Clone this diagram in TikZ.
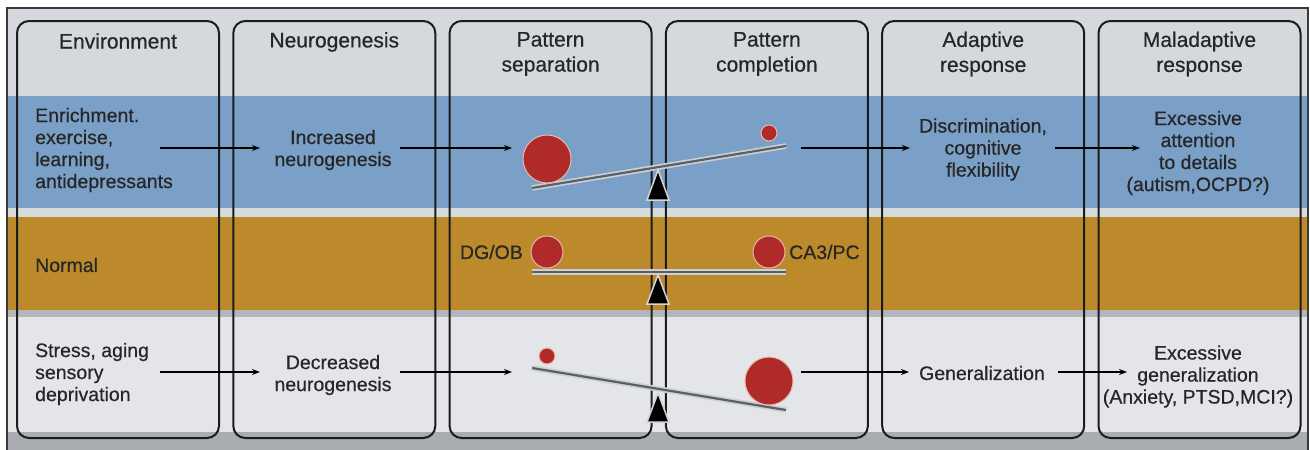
\documentclass[tikz,border=0pt]{standalone}
\usepackage{fontspec}
\setmainfont{Liberation Sans}[FakeBold=0.5]
\usetikzlibrary{arrows.meta}
\definecolor{hdrgray}{HTML}{D5D8DC}
\definecolor{bandblue}{HTML}{7AA0C8}
\definecolor{gapgray}{HTML}{D8DBDE}
\definecolor{bandorange}{HTML}{BC8A2A}
\definecolor{stripgray}{HTML}{B3B6BA}
\definecolor{lowgray}{HTML}{E3E5E8}
\definecolor{botgray}{HTML}{A9ACB0}
\definecolor{framecol}{HTML}{3A3A3A}
\definecolor{boxline}{HTML}{1C1C1C}
\definecolor{txt}{HTML}{262626}
\definecolor{ballred}{HTML}{B02A2A}
\definecolor{ballrim}{HTML}{E9B8A8}
\definecolor{beamlight}{HTML}{CDD0D3}
\definecolor{beamdark}{HTML}{5A6068}
\definecolor{fulcrumrim}{HTML}{D3D5D8}
\tikzset{
  colbox/.style={draw=boxline, line width=2pt, rounded corners=12pt, minimum width=202pt, minimum height=417pt, inner sep=0pt},
  hdr/.style={text=txt, align=center, inner sep=0pt, font=\fontsize{21}{25}\selectfont},
  body/.style={text=txt, align=center, inner sep=0pt, font=\fontsize{19.5}{22}\selectfont},
  bodyl/.style={body, align=left, anchor=west},
  arr/.style={line width=1.6pt, draw=black, -{Stealth[length=8pt,width=6pt]}},
  ball/.style={circle, fill=ballred, draw=ballrim, line width=1pt, inner sep=0pt},
  fulcrum/.style={fill=black, draw=fulcrumrim, line width=1.5pt, line join=miter},
}
\begin{document}
\begin{tikzpicture}[x=1pt,y=-1pt]
\useasboundingbox (0,0) rectangle (1310,450);
% background bands
\fill[hdrgray] (7,8) rectangle (1308,450);
\fill[bandblue] (7,96) rectangle (1308,208);
\fill[gapgray] (7,208) rectangle (1308,217);
\fill[bandorange] (7,217) rectangle (1308,310);
\fill[stripgray] (7,310) rectangle (1308,317);
\fill[lowgray] (7,317) rectangle (1308,432);
\fill[botgray] (7,432) rectangle (1308,450);
\draw[framecol, line width=2pt] (7,452) -- (7,8) -- (1308,8) -- (1308,452);
% column boxes
\node[colbox] (box1) at (118,229.5) {};
\node[colbox] (box2) at (334.3,229.5) {};
\node[colbox] (box3) at (550.6,229.5) {};
\node[colbox] (box4) at (766.9,229.5) {};
\node[colbox] (box5) at (983.2,229.5) {};
\node[colbox] (box6) at (1199.5,229.5) {};
% headers
\node[hdr] (h1) at (118,41) {Environment};
\node[hdr] (h2) at (334.3,42) {Neurogenesis};
\node[hdr] (h3) at (550.6,54) {Pattern\\separation};
\node[hdr] (h4) at (766.9,54) {Pattern\\completion};
\node[hdr] (h5) at (983.2,54) {Adaptive\\response};
\node[hdr] (h6) at (1199.5,54) {Maladaptive\\response};
% top row texts
\node[bodyl] (env1) at (35,150) {Enrichment.\\exercise,\\learning,\\antidepressants};
\node[body] (neu1) at (333,150) {Increased\\neurogenesis};
\node[body] (adp1) at (983,149.5) {Discrimination,\\cognitive\\flexibility};
\node[body] (mal1) at (1198,153) {Excessive\\attention\\to details\\(autism,OCPD?)};
% middle row
\node[bodyl] (norm) at (35,265) {Normal};
\node[body, anchor=east] (dgob) at (523,252) {DG/OB};
\node[body, anchor=west] (ca3) at (789,252) {CA3/PC};
% bottom row texts
\node[bodyl] (env3) at (35,374) {Stress, aging\\sensory\\deprivation};
\node[body] (neu3) at (333,375) {Decreased\\neurogenesis};
\node[body] (adp3) at (982,373) {Generalization};
\node[body] (mal3) at (1198,376.5) {Excessive\\generalization\\(Anxiety, PTSD,MCI?)};
% seesaw coordinates
\coordinate (bt1) at (532,188); \coordinate (bt2) at (786,146);
\coordinate (bm1) at (532,272); \coordinate (bm2) at (786,272);
\coordinate (bb1) at (532,368); \coordinate (bb2) at (786,410);
% beams
\foreach \a/\b in {bt1/bt2,bm1/bm2,bb1/bb2}{
  \draw[beamlight, line width=5.5pt] (\a) -- (\b);
  \draw[beamdark, line width=2.2pt] (\a) -- (\b);
}
% fulcrums
\draw[fulcrum] (658,170) -- (669,200) -- (647,200) -- cycle;
\draw[fulcrum] (658,275) -- (669,304) -- (647,304) -- cycle;
\draw[fulcrum] (658,393) -- (669,422) -- (647,422) -- cycle;
% balls
\node[ball, minimum size=48pt] (bt3) at (547,159) {};
\node[ball, minimum size=16pt] (bt4) at (769,133) {};
\node[ball, minimum size=32pt] (bm3) at (547,252) {};
\node[ball, minimum size=32pt] (bm4) at (769,252) {};
\node[ball, minimum size=16pt] (bb3) at (547,356) {};
\node[ball, minimum size=48pt] (bb4) at (769,381) {};
% arrow coordinates
\coordinate (t1s) at (160,148); \coordinate (t1e) at (260,148);
\coordinate (t2s) at (400,148); \coordinate (t2e) at (512,148);
\coordinate (t3s) at (801,148); \coordinate (t3e) at (910,148);
\coordinate (t4s) at (1055,148); \coordinate (t4e) at (1140,148);
\coordinate (b1s) at (160,372); \coordinate (b1e) at (260,372);
\coordinate (b2s) at (400,372); \coordinate (b2e) at (512,372);
\coordinate (b3s) at (801,372); \coordinate (b3e) at (909,372);
\coordinate (b4s) at (1058,372); \coordinate (b4e) at (1127,372);
\foreach \s/\e in {t1s/t1e,t2s/t2e,t3s/t3e,t4s/t4e,b1s/b1e,b2s/b2e,b3s/b3e,b4s/b4e}{
  \draw[arr] (\s) -- (\e);
}
\end{tikzpicture}
\end{document}
